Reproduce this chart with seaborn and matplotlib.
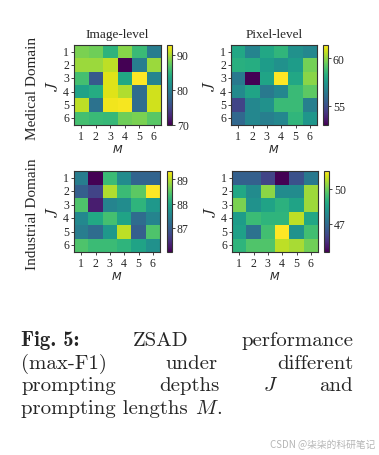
import matplotlib

matplotlib.use("Agg")
import matplotlib.pyplot as plt
import numpy as np
import seaborn as sns

# prompting depths J (rows) and prompting lengths M (columns)
depths = [1, 2, 3, 4, 5, 6]
lengths = [1, 2, 3, 4, 5, 6]

# max-F1 values
medical_image = [
    [88.2, 87.8, 84.8, 88.7, 85.5, 79.6],
    [89.4, 89.4, 90.5, 70.1, 79.6, 89.4],
    [86.0, 76.4, 91.7, 83.7, 92.8, 80.3],
    [83.2, 84.1, 91.7, 90.1, 78.0, 91.2],
    [90.5, 78.7, 92.3, 92.5, 78.0, 91.2],
    [86.0, 85.5, 85.3, 87.8, 88.2, 86.9],
]
medical_pixel = [
    [58.0, 56.8, 58.0, 58.5, 57.2, 56.9],
    [58.3, 58.2, 57.6, 57.2, 57.6, 59.6],
    [56.4, 53.0, 57.9, 61.4, 58.0, 59.9],
    [57.0, 57.9, 56.4, 56.9, 58.7, 59.3],
    [54.7, 56.9, 57.2, 58.7, 58.7, 56.6],
    [55.8, 56.9, 56.6, 56.9, 58.5, 57.4],
]
industrial_image = [
    [87.41, 86.00, 88.28, 87.61, 87.07, 87.07],
    [87.00, 86.67, 88.95, 88.28, 88.51, 89.35],
    [88.41, 86.27, 87.51, 87.61, 88.18, 87.78],
    [87.57, 88.01, 88.35, 87.94, 87.17, 87.51],
    [87.41, 87.17, 87.78, 89.02, 87.00, 88.41],
    [88.41, 88.28, 88.28, 88.18, 87.94, 87.68],
]
industrial_pixel = [
    [46.7, 46.7, 46.0, 44.6, 46.3, 47.4],
    [48.7, 47.9, 50.3, 47.9, 47.9, 50.5],
    [50.1, 48.1, 48.6, 49.0, 48.6, 50.5],
    [48.4, 49.3, 49.1, 49.1, 50.8, 48.7],
    [48.5, 47.2, 49.4, 51.5, 48.1, 49.4],
    [49.1, 49.6, 49.6, 50.8, 50.6, 50.0],
]

cbar_ticks = {
    "medical_image": [70, 80, 90],
    "medical_pixel": [55, 60],
    "industrial_image": [87, 88, 89],
    "industrial_pixel": [47, 50],
}

col_titles = ["Image-level", "Pixel-level"]
row_titles = ["Medical Domain", "Industrial Domain"]

sns.set_style("ticks")
plt.rcParams["font.family"] = ["Liberation Serif", "DejaVu Serif"]

W, H = 379, 456
fig = plt.figure(figsize=(W / 100, H / 100), dpi=100)


def px_box(x0, y0, x1, y1):
    # pixel box (top-left origin) -> figure fraction rect
    return [x0 / W, 1 - y1 / H, (x1 - x0) / W, (y1 - y0) / H]


panels = [
    (medical_image, "medical_image", (74, 46, 161, 126), (167, 46, 172, 126)),
    (medical_pixel, "medical_pixel", (231, 46, 317, 126), (323, 46, 328, 126)),
    (industrial_image, "industrial_image", (74, 172, 160, 253), (167, 172, 172, 253)),
    (industrial_pixel, "industrial_pixel", (232, 172, 318, 253), (324, 172, 329, 253)),
]

for i, (values, key, hm_box, cb_box) in enumerate(panels):
    ax = fig.add_axes(px_box(*hm_box))
    cax = fig.add_axes(px_box(*cb_box))
    sns.heatmap(
        np.array(values),
        ax=ax,
        cbar_ax=cax,
        cmap="viridis",
        xticklabels=lengths,
        yticklabels=depths,
    )
    for s in ax.spines.values():
        s.set_visible(True)
        s.set_linewidth(0.8)
        s.set_color("#333333")
    ax.tick_params(labelsize=8.5, length=2.5, width=0.6, pad=1)
    ax.set_yticklabels(depths, rotation=0)
    ax.set_xlabel("$M$", fontsize=8, labelpad=0)
    ax.set_ylabel("J", fontsize=12, family="cmmi10", labelpad=2)

    cb = ax.collections[0].colorbar
    cb.outline.set_linewidth(0.8)
    cb.outline.set_edgecolor("#333333")
    cb.set_ticks(cbar_ticks[key])
    cax.tick_params(labelsize=8.5, length=2.5, width=0.6, pad=1)

    if i < 2:
        ax.set_title(col_titles[i], fontsize=9.5, pad=6)
    if i % 2 == 0:
        cy = (hm_box[1] + hm_box[3]) / 2 + 2
        fig.text(33 / W, 1 - cy / H, row_titles[i // 2], rotation=90,
                 ha="center", va="center", fontsize=11)

# caption, justified between two margins
left, right = 21, 353
renderer = fig.canvas.get_renderer()
fs = 15

rm = {"family": "cmr10", "size": fs}
bf = {"family": "cmb10", "size": fs}
mi = {"family": "cmmi10", "size": fs}

lines = [
    (346.0, [("Fig. 5:", bf), ("ZSAD", rm), ("performance", rm)]),
    (369.0, [("(max-F1)", rm), ("under", rm), ("different", rm)]),
    (391.5, [("prompting", rm), ("depths", rm), ("J", mi), ("and", rm)]),
]

for y, words in lines:
    texts = [fig.text(0, 1 - y / H, w, va="baseline", fontdict=d) for w, d in words]
    widths = [t.get_window_extent(renderer).width for t in texts]
    gap = (right - left - sum(widths)) / (len(texts) - 1)
    x = left
    for t, w in zip(texts, widths):
        t.set_x(x / W)
        x += w + gap

# last line is set flush left
y_last = 414.0
t1 = fig.text(left / W, 1 - y_last / H, "prompting lengths", va="baseline", fontdict=rm)
w1 = t1.get_window_extent(renderer).width
x = left + w1 + fs * 0.333 * 100 / 72
t2 = fig.text(x / W, 1 - y_last / H, "M", va="baseline", fontdict=mi)
w2 = t2.get_window_extent(renderer).width
fig.text((x + w2 + 1) / W, 1 - y_last / H, ".", va="baseline", fontdict=rm)

fig.text(375 / W, 1 - 448 / H, "CSDN @柒柒的科研笔记", ha="right", va="baseline",
         fontsize=7, color="#b5b5b5", family=["Noto Sans CJK SC", "DejaVu Sans"])

fig.savefig("out.png", dpi=100)
